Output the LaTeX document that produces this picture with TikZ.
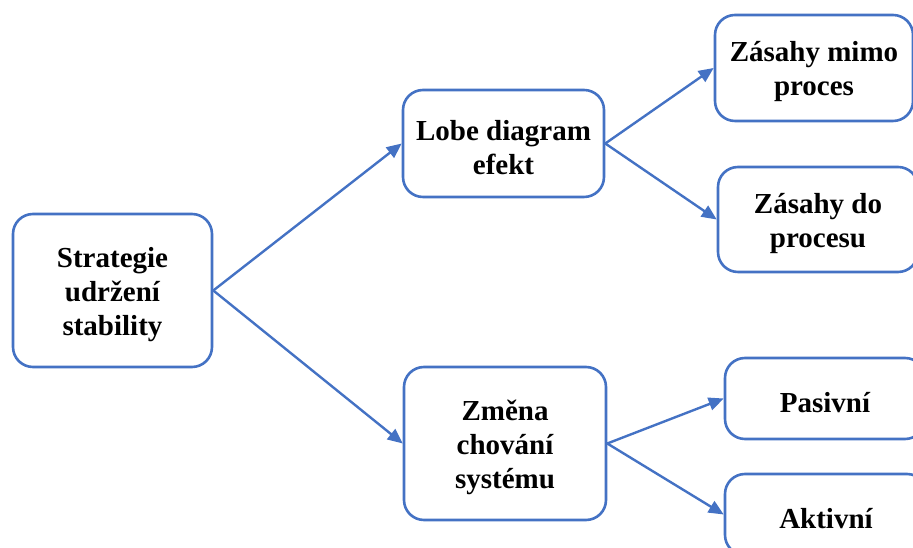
\documentclass[tikz,border=0pt]{standalone}
\usepackage{fontspec}
\setmainfont{Liberation Serif}
\usetikzlibrary{arrows.meta}
\definecolor{boxblue}{HTML}{4472C4}
\tikzset{
  box/.style={draw=boxblue, line width=2.6pt, rounded corners=20pt, fill=white, inner sep=0pt},
  txt/.style={align=center, inner sep=0pt, yshift=-4pt, font=\fontsize{29}{34}\selectfont\bfseries},
  conn/.style={draw=boxblue, line width=2.4pt, -{Triangle[length=15pt,width=13pt]}}
}
\begin{document}
\begin{tikzpicture}[x=1pt,y=1pt]
\useasboundingbox (0,0) rectangle (913,548);
\clip (0,0) rectangle (913,548);
\node[box, minimum width=199pt, minimum height=153pt, label={[txt]center:Strategie\\udržení\\stability}] (root) at (112.5,257.5) {};
\node[box, minimum width=201pt, minimum height=107pt, label={[txt]center:Lobe diagram\\efekt}] (lobe) at (503.5,404.5) {};
\node[box, minimum width=202pt, minimum height=153pt, label={[txt]center:Změna\\chování\\systému}] (zmena) at (505,104.5) {};
\node[box, minimum width=198pt, minimum height=106pt, label={[txt]center:Zásahy mimo\\proces}] (mimo) at (814,480) {};
\node[box, minimum width=200pt, minimum height=105pt, label={[txt]center:Zásahy do\\procesu}] (do) at (818,328.5) {};
\node[box, minimum width=200pt, minimum height=81pt, label={[txt]center:Pasivní}] (pas) at (825,149.5) {};
\node[box, minimum width=202pt, minimum height=81pt, label={[txt]center:Aktivní}] (akt) at (826,33.5) {};
\draw[conn] (root.east) -- (lobe.west);
\draw[conn] (root.east) -- (zmena.west);
\draw[conn] (lobe.east) -- (mimo.west);
\draw[conn] (lobe.east) -- (do.west);
\draw[conn] (zmena.east) -- (pas.west);
\draw[conn] (zmena.east) -- (akt.west);
\end{tikzpicture}
\end{document}
